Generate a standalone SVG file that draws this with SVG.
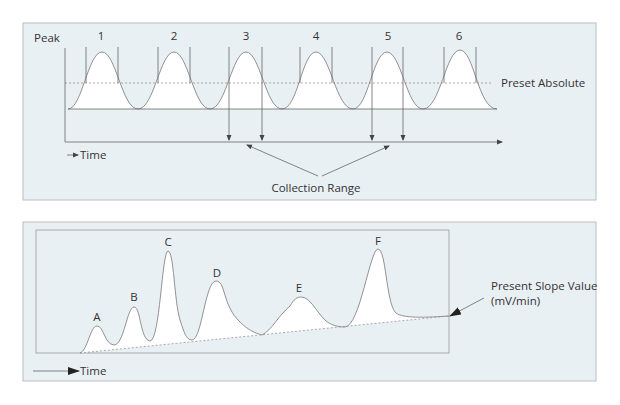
<svg xmlns="http://www.w3.org/2000/svg" width="620" height="405" viewBox="0 0 620 405">
<style>
.panel{fill:#e9f0f4;stroke:#b9bec2;stroke-width:1}
.ln{stroke:#666;stroke-width:0.8;fill:none}
.curve{stroke:#777;stroke-width:0.8;fill:none}
.fillw{fill:#fff;stroke:none}
.dash{stroke:#888;stroke-width:0.7;stroke-dasharray:2 2;fill:none}
text{font-family:"Open Sans","Liberation Sans",sans-serif;font-size:11.5px;fill:#333}
.c{text-anchor:middle}
</style>
<defs>
<marker id="ah" markerWidth="6" markerHeight="6" refX="5" refY="3" orient="auto" markerUnits="userSpaceOnUse"><path d="M0,0.5 L6,3 L0,5.5 Z" fill="#444"/></marker>
<marker id="ahb" markerWidth="12" markerHeight="8" refX="11" refY="4" orient="auto" markerUnits="userSpaceOnUse"><path d="M0,0 L12,4 L0,8 Z" fill="#222"/></marker>
</defs>
<g id="top-panel">
<rect class="panel" x="23" y="23" width="573" height="177"/>
<path class="fillw" d="M68,109 C82,109 88,52 102,52 C116,52 122,109 138,109 C154,109 160,52 174,52 C188,52 194,109 210,109 C226,109 232,52 246,52 C260,52 266,109 282,109 C298,109 302,52 316,52 C330,52 336,109 353,109 C368,109 373,52 387,52 C401,52 407,109 423,109 C440,109 446,50 460,50 C474,50 478,109 497,109 Z"/>
<path class="curve" d="M68,109 C82,109 88,52 102,52 C116,52 122,109 138,109 C154,109 160,52 174,52 C188,52 194,109 210,109 C226,109 232,52 246,52 C260,52 266,109 282,109 C298,109 302,52 316,52 C330,52 336,109 353,109 C368,109 373,52 387,52 C401,52 407,109 423,109 C440,109 446,50 460,50 C474,50 478,109 497,109"/>
<line class="dash" x1="65" y1="83" x2="493" y2="83"/>
<line class="ln" x1="68" y1="109" x2="497" y2="109"/>
<line class="ln" x1="65" y1="48" x2="65" y2="142"/>
<text x="34" y="42">Peak</text>
<text class="c" x="101" y="40">1</text><text class="c" x="174" y="40">2</text><text class="c" x="246" y="40">3</text>
<text class="c" x="316" y="40">4</text><text class="c" x="388" y="40">5</text><text class="c" x="459" y="40">6</text>
<text x="501" y="87">Preset Absolute</text>
<text x="80" y="159">Time</text>
<text class="c" x="316" y="192">Collection Range</text>
</g>
<g id="top-connectors">
<line class="ln" x1="65" y1="142" x2="502" y2="142" marker-end="url(#ah)"/>
<line class="ln" x1="86" y1="47" x2="86" y2="83"/><line class="ln" x1="118" y1="47" x2="118" y2="83"/>
<line class="ln" x1="158" y1="47" x2="158" y2="83"/><line class="ln" x1="190" y1="47" x2="190" y2="83"/>
<line class="ln" x1="300" y1="47" x2="300" y2="83"/><line class="ln" x1="332" y1="47" x2="332" y2="83"/>
<line class="ln" x1="444" y1="47" x2="444" y2="83"/><line class="ln" x1="476" y1="47" x2="476" y2="83"/>
<line class="ln" x1="229" y1="47" x2="229" y2="140" marker-end="url(#ah)"/>
<line class="ln" x1="262" y1="47" x2="262" y2="140" marker-end="url(#ah)"/>
<line class="ln" x1="372" y1="47" x2="372" y2="140" marker-end="url(#ah)"/>
<line class="ln" x1="403" y1="47" x2="403" y2="140" marker-end="url(#ah)"/>
<line class="ln" x1="318" y1="176" x2="247" y2="145" marker-end="url(#ah)"/>
<line class="ln" x1="322" y1="176" x2="389" y2="146" marker-end="url(#ah)"/>
<line class="ln" x1="67" y1="155" x2="78" y2="155" marker-end="url(#ah)"/>
</g>
<g id="bottom-panel">
<rect class="panel" x="23" y="222" width="573" height="159"/>
<rect x="36" y="230" width="413" height="123" fill="none" stroke="#999" stroke-width="0.8"/>
<path class="fillw" d="M80,353 C88,350 90,326 97,326 C104,326 104,344 114,345 C124,345 127,307 134,307 C141,307 140,340 150,341 C160,341 162,251 168,251 C174,251 174,300 180,320 C184,332 186,340 192,340 C202,340 205,281 216,281 C226,281 222,305 240,322 C248,330 255,333 262,335 C272,330 278,316 290,306 C294,299 297,297 301,297 C310,297 315,310 325,320 C330,325 338,327 345,327 C360,326 370,249 378,249 C386,249 386,300 395,312 C400,318 420,318 449,316 Z"/>
<path class="curve" d="M80,353 C88,350 90,326 97,326 C104,326 104,344 114,345 C124,345 127,307 134,307 C141,307 140,340 150,341 C160,341 162,251 168,251 C174,251 174,300 180,320 C184,332 186,340 192,340 C202,340 205,281 216,281 C226,281 222,305 240,322 C248,330 255,333 262,335 C272,330 278,316 290,306 C294,299 297,297 301,297 C310,297 315,310 325,320 C330,325 338,327 345,327 C360,326 370,249 378,249 C386,249 386,300 395,312 C400,318 420,318 449,316"/>
<line class="dash" x1="80" y1="353" x2="449" y2="316"/>
<text class="c" x="97" y="321">A</text><text class="c" x="134" y="301">B</text><text class="c" x="168" y="246">C</text>
<text class="c" x="217" y="277">D</text><text class="c" x="299" y="292">E</text><text class="c" x="378" y="245">F</text>
<text x="491" y="290">Present Slope Value</text>
<text x="491" y="305">(mV/min)</text>
<text x="80" y="375">Time</text>
</g>
<g id="bottom-connectors">
<line class="ln" x1="484" y1="298" x2="450" y2="316" marker-end="url(#ahb)"/>
<line class="ln" x1="33" y1="371" x2="79" y2="371" marker-end="url(#ahb)"/>
</g>
</svg>
